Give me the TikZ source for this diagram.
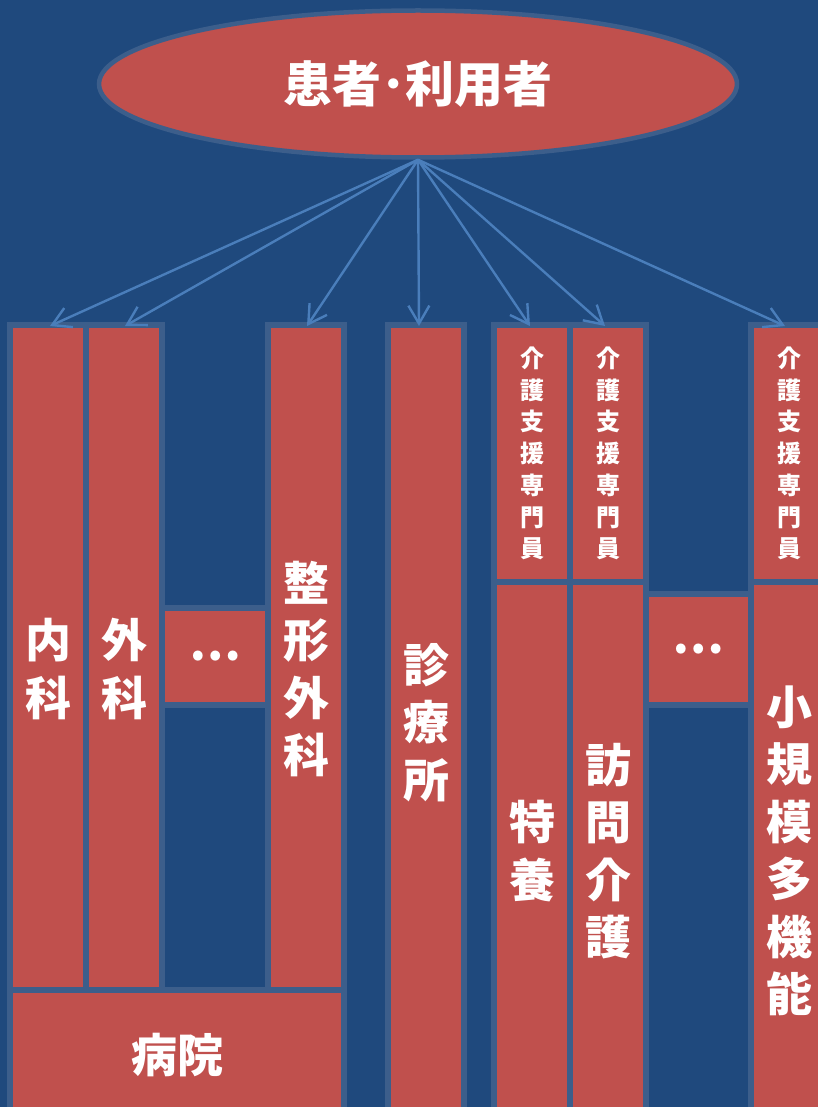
\documentclass[tikz,border=0pt]{standalone}
\usepackage{fontspec}
\usetikzlibrary{shapes.geometric,arrows.meta}
\newfontfamily\jp{Noto Sans CJK JP}
\definecolor{bgc}{HTML}{1F497D}
\definecolor{redc}{HTML}{C0504D}
\definecolor{bordc}{HTML}{3C5E8B}
\definecolor{arrc}{HTML}{4A7EBB}
\tikzset{
  box/.style={draw=bordc, fill=redc, line width=6pt, inner sep=0pt, outer sep=0pt,
    rectangle, text=white, align=center,
    font=\jp\bfseries\fontsize{46}{57.5}\selectfont},
  smallbox/.style={box, font=\jp\bfseries\fontsize{24}{31.7}\selectfont},
  lbl/.style={inner sep=0pt, text=white, align=center,
    font=\jp\bfseries\fontsize{46}{57.5}\selectfont},
  ell/.style={ellipse, draw=bordc, fill=redc, line width=4.5pt, inner sep=0pt,
    text=white, font=\jp\bfseries\fontsize{49}{55}\selectfont},
  arr/.style={draw=arrc, line width=2.4pt,
    -{Straight Barb[length=18pt,width=21pt]}}
}
\begin{document}
\begin{tikzpicture}[x=1pt,y=-1pt]
\fill[bgc] (0,0) rectangle (818,1107);
\useasboundingbox (0,0) rectangle (818,1107);
\clip (0,0) rectangle (818,1107);
% top ellipse
\node[ell, minimum width=638pt, minimum height=147pt] (pt) at (418,84) {患者･利用者};
% hospital group
\node[box, minimum width=76pt, minimum height=665pt] (naika) at (48,657.5) {};
\node[box, minimum width=76pt, minimum height=665pt] (geka) at (124,657.5) {};
\node[box, minimum width=106pt, minimum height=97pt] (dots1) at (215,656.5) {…};
\node[box, minimum width=76pt, minimum height=665pt] (seikei) at (306,657.5) {};
\node[lbl] (naika-t) at (48,669) {内\\科};
\node[lbl] (geka-t) at (124,669) {外\\科};
\node[lbl] (seikei-t) at (306,669) {整\\形\\外\\科};
\node[box, minimum width=334pt, minimum height=130pt] (byoin) at (177,1055) {病院};
% clinic
\node[box, minimum width=76pt, minimum height=795pt] (shinryo) at (426,722.5) {診\\療\\所};
% care group
\node[smallbox, minimum width=76pt, minimum height=257pt] (cm1) at (532,453.5) {介\\護\\支\\援\\専\\門\\員};
\node[box, minimum width=76pt, minimum height=538pt] (tokuyo) at (532,851) {特\\養};
\node[smallbox, minimum width=76pt, minimum height=257pt] (cm2) at (608,453.5) {介\\護\\支\\援\\専\\門\\員};
\node[box, minimum width=76pt, minimum height=538pt] (homon) at (608,851) {訪\\問\\介\\護};
\node[box, minimum width=105pt, minimum height=111pt] (dots2) at (698.5,649.5) {…};
\node[smallbox, minimum width=76pt, minimum height=257pt] (cm3) at (789,453.5) {介\\護\\支\\援\\専\\門\\員};
\node[box, minimum width=76pt, minimum height=538pt] (shoki) at (789,851) {小\\規\\模\\多\\機\\能};
% arrows
\draw[arr] (pt.south) -- ([xshift=2pt,yshift=-1pt]naika.north);
\draw[arr] (pt.south) -- ([xshift=1pt,yshift=-1pt]geka.north);
\draw[arr] (pt.south) -- ([xshift=1pt,yshift=-1pt]seikei.north);
\draw[arr] (pt.south) -- ([xshift=-7pt,yshift=-1pt]shinryo.north);
\draw[arr] (pt.south) -- ([xshift=-2pt,yshift=-1pt]cm1.north);
\draw[arr] (pt.south) -- ([xshift=-3pt,yshift=-1pt]cm2.north);
\draw[arr] (pt.south) -- ([xshift=-4pt,yshift=-1pt]cm3.north);
\end{tikzpicture}
\end{document}
